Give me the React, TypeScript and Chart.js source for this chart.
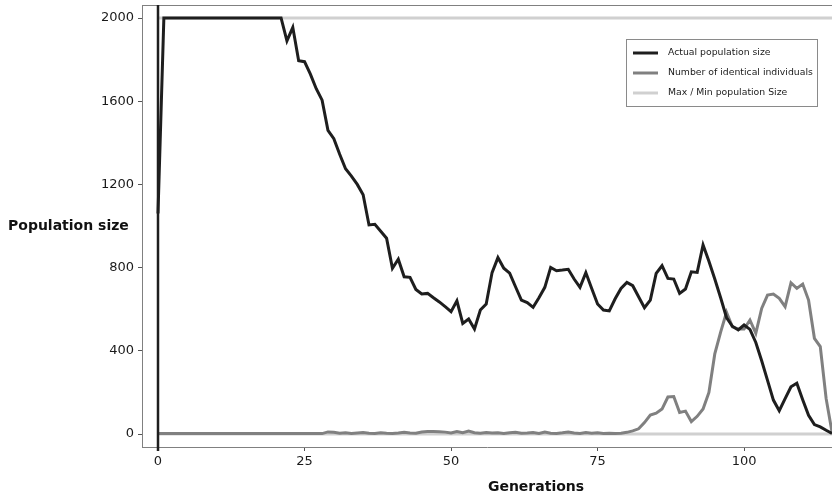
import React, { useEffect, useRef } from "react";
import { Chart, registerables } from "chart.js";

Chart.register(...registerables);

// Population size per generation (index = generation)
const actualPopulation: number[] = [
  1060,
  2000, 2000, 2000, 2000, 2000, 2000, 2000, 2000, 2000, 2000,
  2000, 2000, 2000, 2000, 2000, 2000, 2000, 2000, 2000, 2000, 2000,
  1890, 1955, 1795, 1790, 1730, 1660, 1605, 1460, 1420, 1345,
  1275, 1240, 1200, 1150, 1005, 1008, 975, 941, 797, 840,
  756, 753, 695, 673, 676, 655, 635, 612, 588, 640,
  532, 553, 505, 596, 625, 776, 848, 797, 773, 708,
  644, 632, 609, 655, 705, 801, 785, 788, 792, 745,
  705, 776, 700, 625, 596, 592, 650, 700, 729, 713,
  660, 607, 644, 772, 809, 748, 745, 676, 697, 780,
  777, 909, 830, 745, 655, 560, 518, 500, 524, 503,
  440, 352, 258, 163, 112, 170, 227, 244, 165, 90,
  45, 34, 18, 3,
];

const identicalIndividuals: number[] = [
  2, 2, 2, 2, 2, 2, 2, 2, 2, 2,
  2, 2, 2, 2, 2, 2, 2, 2, 2, 2,
  2, 2, 2, 2, 2, 2, 2, 2, 2,
  10, 8, 4, 6, 3, 5, 7, 4, 3, 6,
  4, 3, 5, 8, 5, 4, 10, 12, 12, 11,
  9, 5, 12, 6, 14, 6, 4, 7, 5, 6,
  3, 6, 8, 4, 5, 7, 3, 9, 4, 3,
  6, 10, 5, 3, 7, 4, 6, 3, 4, 3,
  4, 8,
  15, 25, 55, 91, 100, 120, 178, 180, 103, 110,
  60, 85, 120, 200, 385, 490, 585, 515, 505, 505,
  548, 484, 604, 668, 673, 652, 612, 727, 700, 721,
  644, 460, 420, 170, 10,
];

const populationBounds: number[] = [2000, 0]; // max, min
const boundsGenerations: number[] = [0, 115];

const xTickValues: number[] = [0, 25, 50, 75, 100];
const yTickValues: number[] = [0, 400, 800, 1200, 1600, 2000];

const seriesLabels: string[] = [
  "Actual population size",
  "Number of identical individuals",
  "Max / Min population Size",
];
const seriesColors: string[] = ["#1e1e1e", "#808080", "#d0d0d0"];

const X_TITLE = "Generations";
const Y_TITLE = "Population size";

const FRAME = "#808080";
const FONT = '"DejaVu Sans", sans-serif';

const decorPlugin = {
  id: "decor",
  afterDatasetsDraw(chart: any) {
    const { ctx, chartArea, scales } = chart;
    const { left, right, top, bottom } = chartArea;
    ctx.save();
    // top border of the panel
    ctx.strokeStyle = FRAME;
    ctx.lineWidth = 1;
    ctx.beginPath();
    ctx.moveTo(left, top + 0.5);
    ctx.lineTo(right, top + 0.5);
    ctx.stroke();

    // vertical zero line
    const x0 = scales.x.getPixelForValue(0);
    ctx.strokeStyle = "#1e1e1e";
    ctx.lineWidth = 2.5;
    ctx.beginPath();
    ctx.moveTo(x0, top);
    ctx.lineTo(x0, bottom + 4);
    ctx.stroke();

    // axis titles
    ctx.fillStyle = "#111";
    ctx.font = `bold 14px ${FONT}`;
    ctx.textBaseline = "middle";
    ctx.textAlign = "left";
    ctx.fillText(Y_TITLE, 8, (top + bottom) / 2);
    ctx.textAlign = "center";
    ctx.fillText(X_TITLE, 536, 487);

    // legend
    const lx = 626.5;
    const ly = 39.5;
    const lw = 191;
    const lh = 67;
    ctx.fillStyle = "#ffffff";
    ctx.fillRect(lx, ly, lw, lh);
    ctx.strokeStyle = "#8a8a8a";
    ctx.lineWidth = 1;
    ctx.strokeRect(lx, ly, lw, lh);
    ctx.font = `9.3px ${FONT}`;
    ctx.textAlign = "left";
    ctx.textBaseline = "middle";
    seriesLabels.forEach((label, i) => {
      const yy = 53 + i * 20;
      ctx.strokeStyle = seriesColors[i];
      ctx.lineWidth = 3;
      ctx.beginPath();
      ctx.moveTo(633, yy);
      ctx.lineTo(658, yy);
      ctx.stroke();
      ctx.fillStyle = "#1a1a1a";
      ctx.fillText(label, 668, yy);
    });
    ctx.restore();
  },
};

export default function App() {
  const canvasRef = useRef<HTMLCanvasElement | null>(null);

  useEffect(() => {
    const canvas = canvasRef.current;
    if (!canvas) return;

    const lineBase = {
      pointRadius: 0,
      borderWidth: 3,
      tension: 0,
      fill: false,
      borderJoinStyle: "miter" as const,
    };

    const chart = new Chart(canvas, {
      type: "line",
      data: {
        datasets: [
          {
            ...lineBase,
            label: seriesLabels[0],
            data: actualPopulation.map((v, i) => ({ x: i, y: v })),
            borderColor: seriesColors[0],
          },
          {
            ...lineBase,
            label: seriesLabels[1],
            data: identicalIndividuals.map((v, i) => ({ x: i, y: v })),
            borderColor: seriesColors[1],
          },
          {
            ...lineBase,
            label: seriesLabels[2],
            data: boundsGenerations.map((g) => ({ x: g, y: populationBounds[0] })),
            borderColor: seriesColors[2],
          },
          {
            ...lineBase,
            label: seriesLabels[2] + " (min)",
            data: boundsGenerations.map((g) => ({ x: g, y: populationBounds[1] })),
            borderColor: seriesColors[2],
          },
        ],
      },
      options: {
        animation: false,
        responsive: false,
        maintainAspectRatio: false,
        layout: { padding: { left: 0, right: 0, top: 5, bottom: 0 } },
        plugins: {
          legend: { display: false },
          tooltip: { enabled: false },
        },
        scales: {
          x: {
            type: "linear",
            min: -2.73,
            max: 115,
            afterBuildTicks: (scale: any) => {
              scale.ticks = xTickValues.map((v) => ({ value: v }));
            },
            afterFit: (scale: any) => {
              scale.height = 49;
              scale.paddingLeft = 0;
              scale.paddingRight = 0;
            },
            ticks: {
              font: { family: FONT, size: 13 },
              color: "#1a1a1a",
              padding: 3,
              maxRotation: 0,
              callback: (v: any) => String(v),
            },
            grid: {
              drawOnChartArea: false,
              tickLength: 4,
              tickColor: "#555",
              tickWidth: 1,
            },
            border: { display: true, color: FRAME, width: 1 },
          },
          y: {
            type: "linear",
            min: -62.5,
            max: 2062.5,
            afterBuildTicks: (scale: any) => {
              scale.ticks = yTickValues.map((v) => ({ value: v }));
            },
            afterFit: (scale: any) => {
              scale.width = 142;
              scale.paddingTop = 0;
              scale.paddingBottom = 0;
            },
            ticks: {
              font: { family: FONT, size: 13 },
              color: "#1a1a1a",
              padding: 4,
              callback: (v: any) => String(v),
            },
            grid: {
              drawOnChartArea: false,
              tickLength: 4,
              tickColor: "#555",
              tickWidth: 1,
            },
            border: { display: true, color: FRAME, width: 1 },
          },
        },
      },
      plugins: [decorPlugin],
    });

    return () => chart.destroy();
  }, []);

  return (
    <div style={{ position: "absolute", left: 0, top: 0, width: 832, height: 496, background: "#fff" }}>
      <canvas ref={canvasRef} width={832} height={496} style={{ display: "block" }} />
    </div>
  );
}
